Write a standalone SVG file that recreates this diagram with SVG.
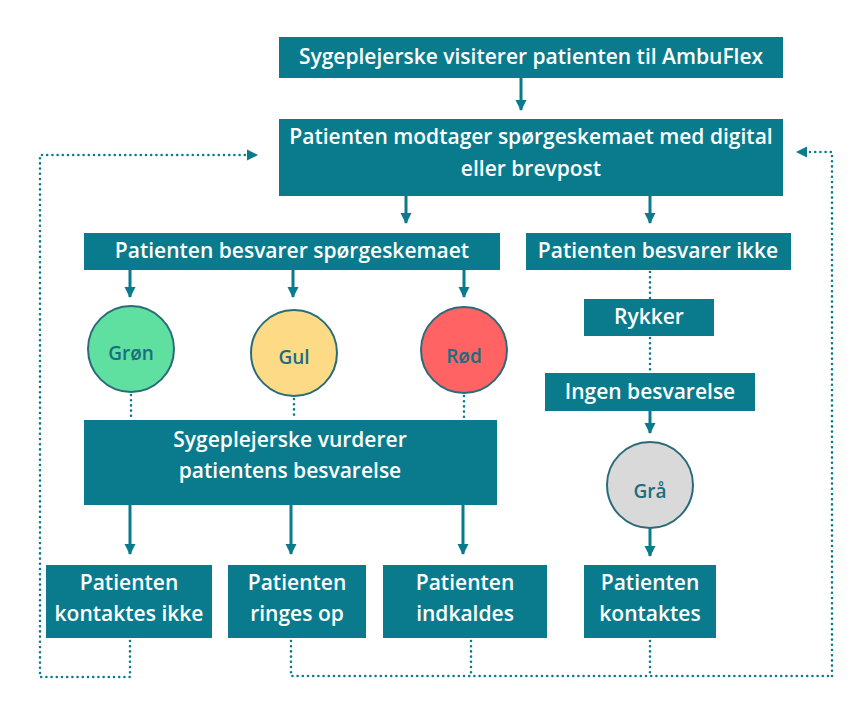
<svg xmlns="http://www.w3.org/2000/svg" width="856" height="708" viewBox="0 0 856 708">
<defs>
<marker id="ah" markerUnits="userSpaceOnUse" markerWidth="12" markerHeight="12" refX="10" refY="6" orient="auto"><path d="M0,0.5 L11,6 L0,11.5 z" fill="#097B8C"/></marker>
<style>
.box{fill:#097B8C}
.bt{font-family:"Open Sans","Noto Sans",sans-serif;font-weight:600;font-size:21px;fill:#fff;text-anchor:middle}
.ct{font-family:"Open Sans","Noto Sans",sans-serif;font-weight:600;font-size:19px;fill:#1A6E7E;text-anchor:middle}
.circ{stroke:#2A6B78;stroke-width:2}
.ar{stroke:#097B8C;stroke-width:3;fill:none;marker-end:url(#ah)}
.dot{stroke:#097B8C;stroke-width:2.6;fill:none;stroke-dasharray:0 5.2;stroke-linecap:round}
.dota{stroke:#097B8C;stroke-width:2.6;fill:none;stroke-dasharray:0 5.2;stroke-linecap:round;marker-end:url(#ah)}
</style>
</defs>
<g id="connectors">
<line class="ar" x1="521" y1="78" x2="521" y2="110"/>
<line class="ar" x1="406" y1="196" x2="406" y2="223"/>
<line class="ar" x1="650" y1="196" x2="650" y2="223"/>
<line class="ar" x1="130" y1="270" x2="130" y2="297"/>
<line class="ar" x1="293" y1="270" x2="293" y2="297"/>
<line class="ar" x1="464" y1="270" x2="464" y2="297"/>
<line class="dot" x1="131" y1="395" x2="131" y2="418"/>
<line class="dot" x1="294" y1="399" x2="294" y2="418"/>
<line class="dot" x1="464" y1="396" x2="464" y2="418"/>
<line class="ar" x1="130" y1="505" x2="130" y2="554"/>
<line class="ar" x1="291" y1="505" x2="291" y2="554"/>
<line class="ar" x1="463" y1="505" x2="463" y2="554"/>
<line class="dot" x1="650" y1="272" x2="650" y2="298"/>
<line class="dot" x1="650" y1="338" x2="650" y2="372"/>
<line class="ar" x1="650" y1="411" x2="650" y2="433"/>
<line class="ar" x1="650" y1="528" x2="650" y2="556"/>
<path class="dota" d="M130,641 L130,677 L40,677 L40,155 L257,155"/>
<path class="dot" d="M291,641 L291,676 L832,676"/>
<path class="dota" d="M832,676 L832,152 L797,152"/>
<line class="dot" x1="471" y1="641" x2="471" y2="676"/>
<line class="dot" x1="650" y1="641" x2="650" y2="676"/>
</g>
<g id="n-visit"><rect class="box" x="279" y="37" width="504" height="41"/><text class="bt" x="531" y="64">Sygeplejerske visiterer patienten til AmbuFlex</text></g>
<g id="n-modtager"><rect class="box" x="279" y="119" width="504" height="77"/><text class="bt" x="531" y="144">Patienten modtager spørgeskemaet med digital</text><text class="bt" x="531" y="176">eller brevpost</text></g>
<g id="n-besvarer"><rect class="box" x="84" y="233" width="416" height="37"/><text class="bt" x="292" y="258">Patienten besvarer spørgeskemaet</text></g>
<g id="n-ikke"><rect class="box" x="526" y="233" width="265" height="37"/><text class="bt" x="658" y="258">Patienten besvarer ikke</text></g>
<g id="n-gron"><circle class="circ" cx="131" cy="349" r="43" fill="#5FE0A1"/><text class="ct" x="131" y="360">Grøn</text></g>
<g id="n-gul"><circle class="circ" cx="294" cy="353" r="43" fill="#FDDA85"/><text class="ct" x="294" y="364">Gul</text></g>
<g id="n-rod"><circle class="circ" cx="464" cy="350" r="43" fill="#FF6363"/><text class="ct" x="464" y="363">Rød</text></g>
<g id="n-rykker"><rect class="box" x="584" y="299" width="130" height="37"/><text class="bt" x="649" y="324">Rykker</text></g>
<g id="n-ingen"><rect class="box" x="545" y="373" width="210" height="38"/><text class="bt" x="650" y="399">Ingen besvarelse</text></g>
<g id="n-gra"><circle class="circ" cx="650" cy="485" r="43" fill="#D9D9D9"/><text class="ct" x="650" y="498">Grå</text></g>
<g id="n-vurderer"><rect class="box" x="84" y="420" width="413" height="85"/><text class="bt" x="290" y="447">Sygeplejerske vurderer</text><text class="bt" x="290" y="478">patientens besvarelse</text></g>
<g id="n-kontaktesikke"><rect class="box" x="46" y="565" width="166" height="73"/><text class="bt" x="129" y="590">Patienten</text><text class="bt" x="129" y="621">kontaktes ikke</text></g>
<g id="n-ringes"><rect class="box" x="228" y="565" width="138" height="73"/><text class="bt" x="297" y="590">Patienten</text><text class="bt" x="297" y="621">ringes op</text></g>
<g id="n-indkaldes"><rect class="box" x="383" y="565" width="164" height="73"/><text class="bt" x="465" y="590">Patienten</text><text class="bt" x="465" y="621">indkaldes</text></g>
<g id="n-kontaktes"><rect class="box" x="584" y="565" width="132" height="73"/><text class="bt" x="650" y="590">Patienten</text><text class="bt" x="650" y="621">kontaktes</text></g>
</svg>
